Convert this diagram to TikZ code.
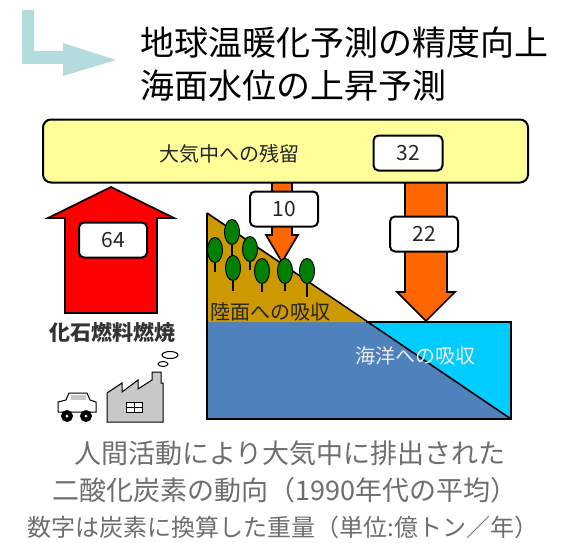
\documentclass[tikz,border=0pt]{standalone}
\usepackage{fontspec}
\newfontfamily\jp{Noto Sans CJK JP}
\definecolor{pale}{HTML}{B4DCDC}
\definecolor{cream}{HTML}{FFFF99}
\definecolor{soil}{HTML}{CC9900}
\definecolor{sea}{HTML}{4F81BD}
\definecolor{shallow}{HTML}{00CCFF}
\definecolor{flow}{HTML}{FF6600}
\definecolor{leaf}{HTML}{008000}
\definecolor{note}{HTML}{6E6E6E}
\definecolor{plant}{HTML}{C8C8C8}
\tikzset{
  numbox/.style={draw=black, line width=2pt, fill=white, rounded corners=5pt,
    font=\jp\fontsize{21}{21}\selectfont, text=black!85, inner sep=0pt},
  blockarrow/.style={draw=black, line width=1.7pt, line join=miter},
  tree/.style={draw=black, line width=1pt, fill=leaf},
  trunk/.style={draw=black, line width=1.5pt},
}
\begin{document}
\begin{tikzpicture}[x=1pt, y=-1pt]
\useasboundingbox (0,0) rectangle (565,543);

% heading arrow
\fill[pale] (22,10) rectangle (34,64) (22,51) rectangle (66,64);
\fill[pale] (63,43) -- (116,60) -- (63,76) -- cycle;

% heading
\node[anchor=west, font=\jp\fontsize{34}{34}\selectfont, inner sep=0pt] (t1) at (140,43) {地球温暖化予測の精度向上};
\node[anchor=west, font=\jp\fontsize{34}{34}\selectfont, inner sep=0pt] (t2) at (140,86) {海面水位の上昇予測};

% downward flows (tops hidden under the atmosphere box)
\draw[blockarrow, fill=flow] (272,175) -- (272,235) -- (266,235) -- (282,262) -- (298,235) -- (292,235) -- (292,175) -- cycle;
\draw[blockarrow, fill=flow] (405,175) -- (405,292) -- (397,292) -- (426,321) -- (455,292) -- (447,292) -- (447,175) -- cycle;

% atmosphere
\node[draw=black, line width=2pt, fill=cream, rounded corners=8pt, minimum width=485pt, minimum height=63pt, inner sep=0pt] (air) at (285.5,151) {};
\node[font=\jp\fontsize{20}{20}\selectfont, text=black!85] (airlabel) at (229,154) {大気中への残留};
\node[numbox, minimum width=69pt, minimum height=35pt] (n32) at (408,153) {32};

% fossil fuel emission arrow
\draw[blockarrow, fill=red] (65,313) -- (65,218) -- (48,218) -- (111,187) -- (174,218) -- (157,218) -- (157,313) -- cycle;
\node[numbox, minimum width=68pt, minimum height=35pt] (n64) at (113,240) {64};
\node[font=\jp\bfseries\fontsize{21}{21}\selectfont, text=black!80] (fossil) at (112,332) {化石燃料燃焼};

% land and ocean
\fill[sea] (207,322) rectangle (511,419);
\fill[shallow] (366,322) -- (511,322) -- (511,419) -- cycle;
\fill[soil] (207,213) -- (366,322) -- (207,322) -- cycle;
\draw[line width=2pt, line join=miter] (366,322) -- (511,322) -- (511,419) -- (207,419) -- (207,213);
\draw[line width=1.6pt] (207,213) -- (511,419);

% forest
\foreach \x/\y/\b in {232/232/258, 215/250/272, 250/249/270, 233/268/291, 262/271/292, 285/271/291, 307/271/297}{
  \draw[trunk] (\x,\y) -- (\x,\b);
  \draw[tree] (\x,\y) ellipse [x radius=7.5pt, y radius=12.5pt];
}

\node[numbox, minimum width=68pt, minimum height=35pt] (n10) at (284,209) {10};
\node[numbox, minimum width=68pt, minimum height=35pt] (n22) at (424,234) {22};

\node[anchor=west, font=\jp\fontsize{20}{20}\selectfont, text=black!85, inner sep=0pt] (landlabel) at (210,312) {陸面への吸収};
\node[font=\jp\fontsize{20}{20}\selectfont, text=white!92!black] (sealabel) at (415,356) {海洋への吸収};

% car
\draw[line width=1pt, fill=white] (58,412) -- (58,402) -- (66,400) -- (69,393) -- (87,393) -- (90,400) -- (96,402) -- (96,412) -- cycle;
\fill[plant] (71,395) rectangle (86,400);
\draw[line width=1pt, fill=black] (67,416) circle (5.5pt) (86,416) circle (5.5pt);
\fill[white] (67,416) circle (1.5pt) (86,416) circle (1.5pt);

% factory
\draw[line width=1pt, fill=plant, line join=miter] (107,422) -- (107,393) -- (122,383) -- (122,392) -- (138,380) -- (138,389) -- (152,380) -- (152,372) -- (161,372) -- (161,383) -- (163,383) -- (163,422) -- cycle;
\draw[line width=1pt, fill=white] (126,402) rectangle (142,412);
\draw[line width=1pt] (134,402) -- (134,412) (126,407) -- (142,407);
\draw[line width=1pt, fill=white] (163,364) ellipse [x radius=5pt, y radius=2.5pt];
\draw[line width=1pt, fill=white] (170,355) ellipse [x radius=8pt, y radius=3.5pt];

% caption
\node[font=\jp\fontsize{27}{27}\selectfont, text=note] (c1) at (290,453) {人間活動により大気中に排出された};
\node[font=\jp\fontsize{27}{27}\selectfont, text=note] (c2) at (285,490) {二酸化炭素の動向（1990年代の平均）};
\node[font=\jp\fontsize{24}{24}\selectfont, text=note] (c3) at (283,527) {数字は炭素に換算した重量（単位:億トン／年）};
\end{tikzpicture}
\end{document}
